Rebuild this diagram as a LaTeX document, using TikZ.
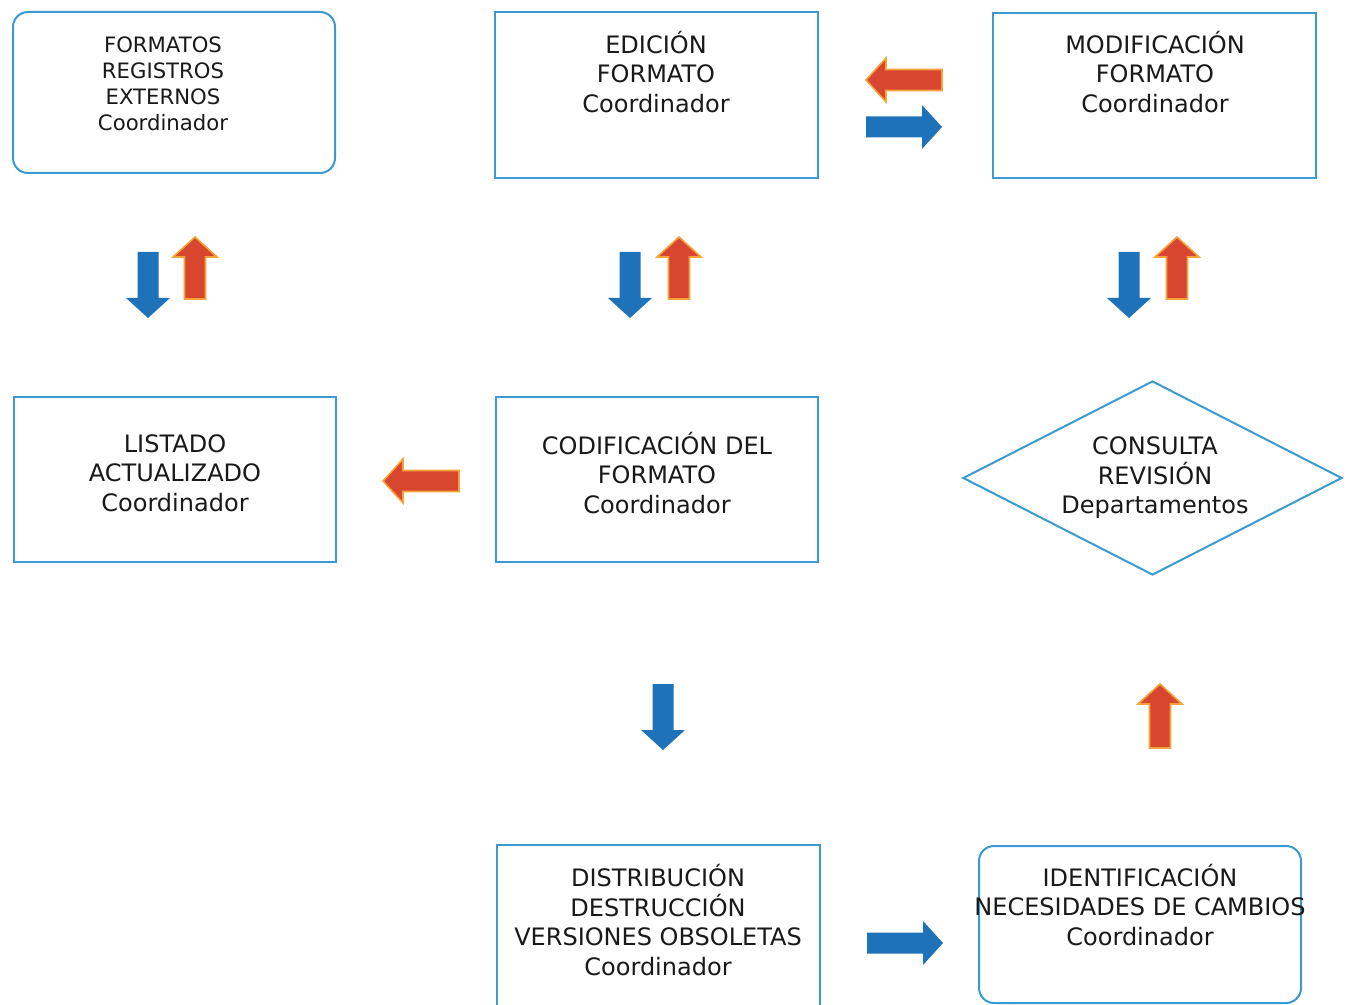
\documentclass[tikz,border=0pt]{standalone}
\usepackage{fontspec}
\setmainfont{DejaVu Sans}
\usetikzlibrary{shapes.geometric}
\definecolor{boxblue}{HTML}{3A9BD0}
\definecolor{arrblue}{HTML}{1D72BA}
\definecolor{arrred}{HTML}{D9462F}
\definecolor{arrorange}{HTML}{F4A43A}
\tikzset{
  box/.style={draw=boxblue, line width=1pt, inner sep=0pt},
  rbox/.style={box, rounded corners=7.5pt},
  txt/.style={align=center, font=\fontsize{12}{14.75}\selectfont, inner sep=0pt, text=black!90},
  smalltxt/.style={txt, font=\fontsize{10.6}{13}\selectfont},
  blockarrow/.pic={\path[pic actions] (-#1,-10.5) -- (#1-20,-10.5) -- (#1-20,-22) -- (#1,0) -- (#1-20,22) -- (#1-20,10.5) -- (-#1,10.5) -- cycle;},
  bluearr/.style={fill=arrblue},
  redarr/.style={fill=arrred, draw=arrorange, line width=0.8pt, line join=miter}
}
\begin{document}
\begin{tikzpicture}[x=0.5pt,y=-0.5pt]
\clip (0,0) rectangle (1350,1005);
\fill[white] (0,0) rectangle (1350,1005);

% boxes
\node[rbox, minimum width=161pt, minimum height=80.5pt] (b1) at (174,92.5) {};
\node[box, minimum width=161.5pt, minimum height=83pt] (b2) at (656.5,95) {};
\node[box, minimum width=161.5pt, minimum height=82.5pt] (b3) at (1154.5,95.5) {};
\node[box, minimum width=161pt, minimum height=82.5pt] (b4) at (175,479.5) {};
\node[box, minimum width=161pt, minimum height=82.5pt] (b5) at (657,479.5) {};
\node[box, diamond, minimum width=189.5pt, minimum height=97pt] (d6) at (1152.5,478) {};
\node[box, minimum width=161.5pt, minimum height=92.5pt] (b7) at (658.5,937.5) {};
\node[rbox, minimum width=161pt, minimum height=78.5pt] (b8) at (1140,924.5) {};

% texts
\node[smalltxt] (t1) at (163,84) {FORMATOS\\REGISTROS\\EXTERNOS\\Coordinador};
\node[txt] (t2) at (656,72) {EDICIÓN\\FORMATO\\Coordinador};
\node[txt] (t3) at (1155,72) {MODIFICACIÓN\\FORMATO\\Coordinador};
\node[txt] (t4) at (175,473) {LISTADO\\ACTUALIZADO\\Coordinador};
\node[txt] (t5) at (657,473) {CODIFICACIÓN DEL\\FORMATO\\Coordinador};
\node[txt] (t6) at (1155,478) {CONSULTA\\REVISIÓN\\Departamentos};
\node[txt] (t7) at (658,920) {DISTRIBUCIÓN\\DESTRUCCIÓN\\VERSIONES OBSOLETAS\\Coordinador};
\node[txt] (t8) at (1140,905) {IDENTIFICACIÓN\\NECESIDADES DE CAMBIOS\\Coordinador};

% block arrows
\pic[redarr, rotate=180] at (904,80) {blockarrow=38};
\pic[bluearr] at (904,127) {blockarrow=38};

\pic[bluearr, rotate=-90] at (148,285) {blockarrow=33};
\pic[redarr, rotate=90] at (195,268) {blockarrow=31};
\pic[bluearr, rotate=-90] at (630,285) {blockarrow=33};
\pic[redarr, rotate=90] at (679,268) {blockarrow=31};
\pic[bluearr, rotate=-90] at (1129,285) {blockarrow=33};
\pic[redarr, rotate=90] at (1177,268) {blockarrow=31};

\pic[redarr, rotate=180] at (421,481) {blockarrow=38};
\pic[bluearr, rotate=-90] at (663,717) {blockarrow=33};
\pic[redarr, rotate=90] at (1160,716) {blockarrow=32};
\pic[bluearr] at (905,943) {blockarrow=38};
\end{tikzpicture}
\end{document}
